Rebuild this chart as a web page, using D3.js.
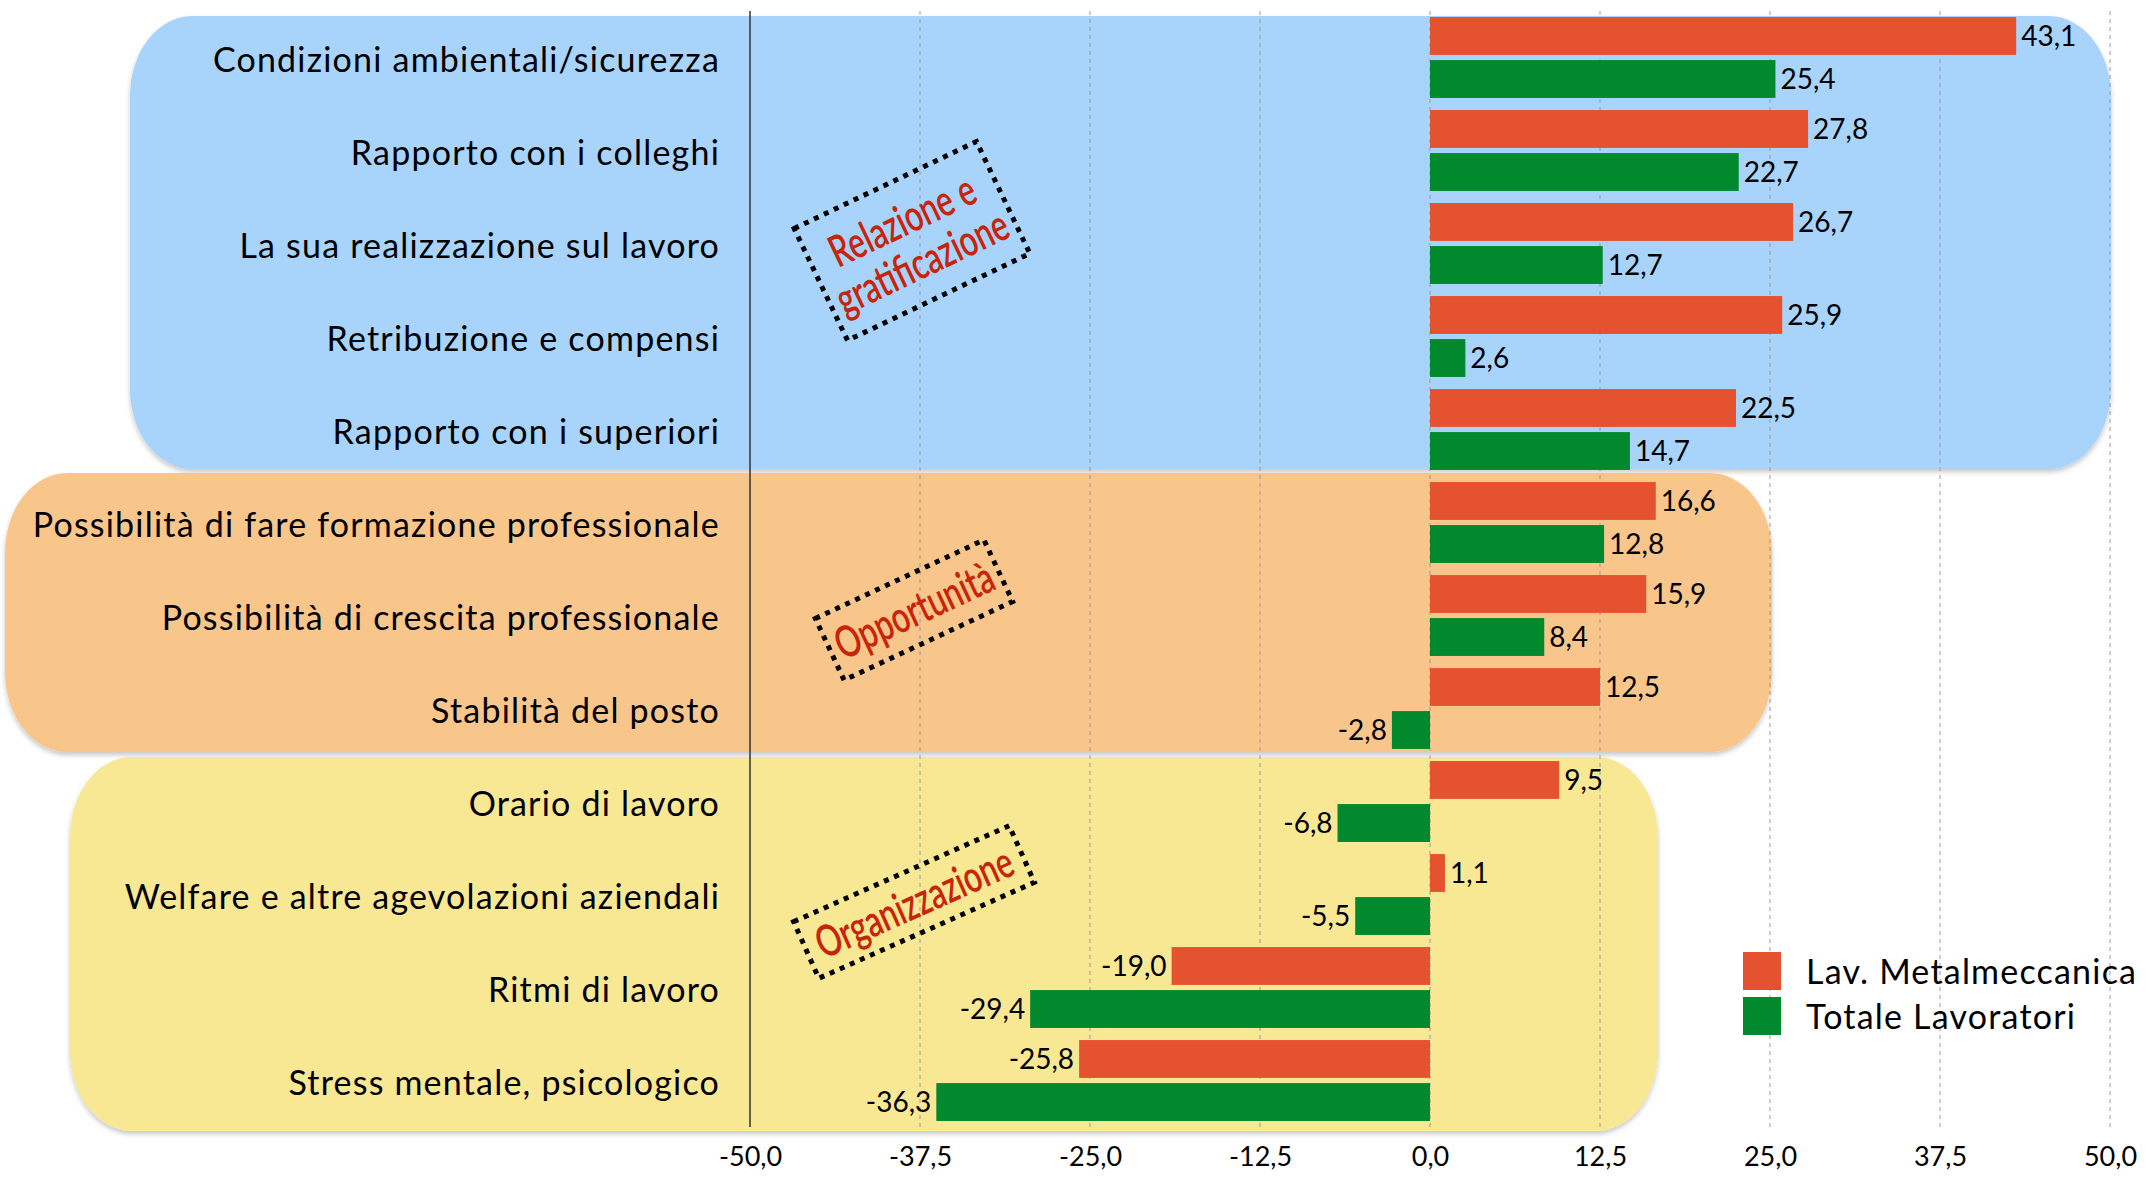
<!DOCTYPE html>
<html><head><meta charset="utf-8">
<script src="https://cdn.jsdelivr.net/npm/d3@7"></script>
<style>html,body{margin:0;padding:0;background:#fff;} svg{display:block;}</style>
</head><body>
<svg id="chart" width="2145" height="1178"></svg>
<script>
// ---------- DATA ----------
const categories = [
  "Condizioni ambientali/sicurezza",
  "Rapporto con i colleghi",
  "La sua realizzazione sul lavoro",
  "Retribuzione e compensi",
  "Rapporto con i superiori",
  "Possibilità di fare formazione professionale",
  "Possibilità di crescita professionale",
  "Stabilità del posto",
  "Orario di lavoro",
  "Welfare e altre agevolazioni aziendali",
  "Ritmi di lavoro",
  "Stress mentale, psicologico"
];
const metalmeccanicaValues = [43.1, 27.8, 26.7, 25.9, 22.5, 16.6, 15.9, 12.5, 9.5, 1.1, -19.0, -25.8];
const totaleValues         = [25.4, 22.7, 12.7, 2.6, 14.7, 12.8, 8.4, -2.8, -6.8, -5.5, -29.4, -36.3];
const seriesNames = ["Lav. Metalmeccanica", "Totale Lavoratori"];
const tickValues = [-50, -37.5, -25, -12.5, 0, 12.5, 25, 37.5, 50];
const groupLabels = [["Relazione e", "gratificazione"], ["Opportunità"], ["Organizzazione"]];
const groupFirst = ["Condizioni ambientali/sicurezza", "Possibilità di fare formazione professionale", "Orario di lavoro"];
const groupLast  = ["Rapporto con i superiori", "Stabilità del posto", "Stress mentale, psicologico"];

// ---------- STYLE / LAYOUT ----------
const seriesColors = ["#E5522F", "#02882D"];
const boxStyles = [
  {fill: "#A8D3FB", x0: 130, x1: 2111, padTop: 1, padBottom: -1},
  {fill: "#F8C68B", x0: 5,   x1: 1772, padTop: 9, padBottom: 3},
  {fill: "#F8E793", x0: 70,  x1: 1658, padTop: 4, padBottom: 10}
];
const annotStyles = [
  {cx: 912, cy: 241, w: 202, h: 124, angle: -25.5},
  {cx: 914, cy: 610, w: 186, h: 68,  angle: -25},
  {cx: 914, cy: 902, w: 236, h: 62,  angle: -24}
];
const labelFont = "Lato, 'Open Sans', sans-serif";

const svg = d3.select("#chart");
const x = d3.scaleLinear().domain([-50, 50]).range([750, 2110]);
const y = d3.scaleBand().domain(categories).range([11, 1127]).paddingInner(0.13).paddingOuter(0.065);
const ySub = d3.scaleBand().domain([0, 1]).range([0, y.bandwidth()]).paddingInner(0.12);
const it = d3.formatLocale({decimal: ",", thousands: ".", grouping: [3], currency: ["", "€"], minus: "-"});
const fmt = it.format(".1f");

// shadow filter
const defs = svg.append("defs");
const f = defs.append("filter").attr("id", "shadow").attr("x", "-5%").attr("y", "-5%").attr("width", "110%").attr("height", "115%");
f.append("feDropShadow").attr("dx", 0).attr("dy", 3).attr("stdDeviation", 2.5).attr("flood-color", "#000").attr("flood-opacity", 0.22);

// group background boxes
const gBoxes = svg.append("g");
groupFirst.forEach((first, i) => {
  const s = boxStyles[i];
  const top = y(first) - s.padTop;
  const bottom = y(groupLast[i]) + y.bandwidth() + s.padBottom;
  gBoxes.append("rect")
    .attr("x", s.x0).attr("y", top)
    .attr("width", s.x1 - s.x0).attr("height", bottom - top)
    .attr("rx", 62).attr("ry", 80)
    .attr("fill", s.fill)
    .attr("filter", "url(#shadow)");
});

// gridlines
const [gy0, gy1] = y.range();
svg.append("g").selectAll("line").data(tickValues).join("line")
  .attr("x1", d => x(d)).attr("x2", d => x(d))
  .attr("y1", gy0).attr("y2", gy1)
  .attr("stroke", d => d === -50 ? "#333" : "#9a9a9a")
  .attr("stroke-width", d => d === -50 ? 1.5 : 1)
  .attr("stroke-dasharray", d => d === -50 ? null : "4,4");

// x axis
const xAxis = svg.append("g").attr("transform", `translate(0,${gy1 + 24})`)
  .call(d3.axisBottom(x).tickValues(tickValues).tickFormat(fmt).tickSize(0));
xAxis.select(".domain").remove();
xAxis.selectAll("text").attr("font-family", labelFont).attr("font-size", 27).attr("fill", "#000").attr("dy", "0.45em");

// bars
const seriesValues = [metalmeccanicaValues, totaleValues];
const gBars = svg.append("g");
seriesValues.forEach((vals, si) => {
  gBars.selectAll(null).data(categories).join("rect")
    .attr("x", (c, i) => x(Math.min(0, vals[i])))
    .attr("y", c => y(c) + ySub(si))
    .attr("width", (c, i) => Math.abs(x(vals[i]) - x(0)))
    .attr("height", ySub.bandwidth())
    .attr("fill", seriesColors[si]);
  gBars.selectAll(null).data(categories).join("text")
    .attr("x", (c, i) => vals[i] >= 0 ? x(vals[i]) + 5 : x(vals[i]) - 5)
    .attr("y", c => y(c) + ySub(si) + ySub.bandwidth() / 2)
    .attr("dy", "0.36em")
    .attr("text-anchor", (c, i) => vals[i] >= 0 ? "start" : "end")
    .attr("font-family", labelFont).attr("font-size", 28).attr("fill", "#000")
    .text((c, i) => fmt(vals[i]));
});

// category labels
const yAxis = svg.append("g").attr("transform", "translate(720,0)")
  .call(d3.axisLeft(y).tickSize(0).tickPadding(0));
yAxis.select(".domain").remove();
yAxis.selectAll("text").attr("font-family", labelFont).attr("font-size", 34)
  .attr("letter-spacing", 1.2).attr("fill", "#000").attr("dy", "0.42em");

// annotations
groupLabels.forEach((lines, i) => {
  const a = annotStyles[i];
  const g = svg.append("g").attr("transform", `translate(${a.cx},${a.cy}) rotate(${a.angle})`);
  g.append("rect").attr("x", -a.w / 2).attr("y", -a.h / 2).attr("width", a.w).attr("height", a.h)
    .attr("fill", "none").attr("stroke", "#000").attr("stroke-width", 5).attr("stroke-dasharray", "5,6");
  const t = g.append("text").attr("transform", "scale(0.71,1)")
    .attr("text-anchor", "middle").attr("font-family", labelFont).attr("font-size", 44)
    .attr("font-weight", 600).attr("fill", "#C8240A");
  const lh = 46;
  lines.forEach((ln, k) => {
    t.append("tspan").attr("x", 0).attr("y", (k - (lines.length - 1) / 2) * lh).attr("dy", "0.36em").text(ln);
  });
});

// legend
const legend = svg.append("g").attr("transform", "translate(1743,952)");
seriesNames.forEach((name, i) => {
  legend.append("rect").attr("x", 0).attr("y", i * 45).attr("width", 38).attr("height", 38).attr("fill", seriesColors[i]);
  legend.append("text").attr("x", 63).attr("y", i * 45 + 19).attr("dy", "0.38em")
    .attr("font-family", labelFont).attr("font-size", 34).attr("letter-spacing", 1.2).attr("fill", "#000").text(name);
});
</script>
</body></html>
